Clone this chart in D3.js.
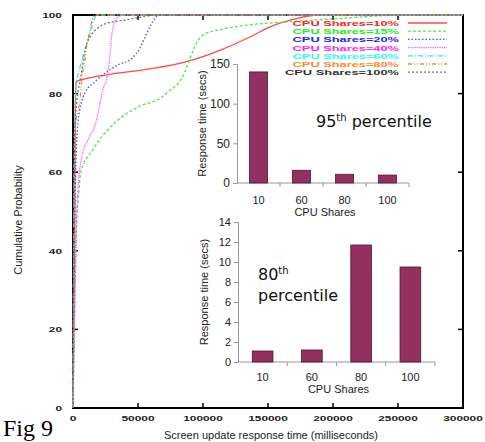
<!DOCTYPE html>
<html>
<head>
<meta charset="utf-8">
<script src="https://cdn.jsdelivr.net/npm/d3@7"></script>
<style>
  body { margin: 0; background: #fff; }
  svg { display: block; }
</style>
</head>
<body>
<div id="chart"></div>
<script>
// CDF curves (x in ms, y in %)
const cpu10 = [[0,0],[1200,40],[1800,75],[2300,83],[24600,84.7],[59200,86.3],[86000,88],[113000,91],[136000,94.4],[151500,97],[167000,98.7],[190000,100],[300000,100]];
const cpu15 = [[0,0],[1500,30],[2500,45],[4500,55],[6000,60],[15000,65.6],[32000,72.5],[50000,76.6],[68000,79],[75000,81],[82000,83],[86000,85.5],[89000,88],[93000,91.5],[100000,94.9],[115000,96.4],[136000,97.5],[162000,98.2],[200000,99],[255000,100],[300000,100]];
const cpu20 = [[0,0],[1500,50],[2500,65],[4000,73],[7700,79],[9200,80.2],[16900,83],[24600,85.2],[34600,87.3],[45400,89],[51500,91.6],[55400,94.4],[59200,97],[63000,99.2],[66000,100],[300000,100]];
const cpu40 = [[0,0],[2300,40],[3000,50],[3800,55.5],[6900,64],[11500,68.2],[17500,72.5],[20800,77.6],[23000,81],[26200,84.2],[28500,90],[30000,95.4],[33800,99.2],[38500,100],[300000,100]];
const cpu60 = [[0,0],[800,60],[1500,75],[2000,81],[5400,86.8],[9200,91],[13100,95.4],[15400,98.2],[18500,100],[300000,100]];
const cpu80 = [[0,0],[1000,60],[2300,73],[5400,78.4],[6900,84.2],[9200,88.5],[10800,92.9],[13100,96.2],[14600,98.7],[16900,100],[300000,100]];
const cpu100 = [[0,0],[1000,60],[1700,73],[3000,78],[6900,86],[9200,91],[13100,94.4],[19200,96.7],[26900,98],[40000,98.7],[53000,99.5],[63000,100],[300000,100]];

const seriesNames = ["CPU Shares=10%","CPU Shares=15%","CPU Shares=20%","CPU Shares=40%","CPU Shares=60%","CPU Shares=80%","CPU Shares=100%"];
const seriesData = [cpu10, cpu15, cpu20, cpu40, cpu60, cpu80, cpu100];

const xTicks = [0,50000,100000,150000,200000,250000,300000];
const yTicks = [0,20,40,60,80,100];

// inset bar charts
const barCategories = ["10","60","80","100"];
const p95Values = [140,16,11,10];
const p80Values = [1.1,1.2,11.7,9.5];
const p95Ticks = [0,50,100,150];
const p80Ticks = [0,2,4,6,8,10,12,14];

const lineColors = ["#ff4a4a","#4ce84c","#4848ff","#ff55ff","#33e6e6","#f08a3c","#707070"];
const textColors = ["#ff2424","#22f022","#2222ff","#ff22ff","#22ffff","#ff8a2a","#333333"];
const dashes = [null,"3,2","1.5,2","1,0.8","5,2,1,2","4,2,1,2,1,2","2,2"];

const width = 485, height = 442;
const svg = d3.select("#chart").append("svg")
    .attr("width", width).attr("height", height);

const x = d3.scaleLinear().domain([0,300000]).range([73,463]);
const y = d3.scaleLinear().domain([0,100]).range([408,15]);

// frame and ticks
const frame = svg.append("g").attr("stroke", "#000");
frame.append("rect")
    .attr("x", x(0)).attr("y", y(100))
    .attr("width", x(300000) - x(0)).attr("height", y(0) - y(100))
    .attr("fill", "none").attr("stroke-width", 2);
xTicks.slice(1, -1).forEach(t => {
    frame.append("line").attr("x1", x(t)).attr("x2", x(t)).attr("y1", y(0)).attr("y2", y(0) - 5).attr("stroke-width", 1.5);
    frame.append("line").attr("x1", x(t)).attr("x2", x(t)).attr("y1", y(100)).attr("y2", y(100) + 5).attr("stroke-width", 1.5);
});
yTicks.slice(1, -1).forEach(t => {
    frame.append("line").attr("x1", x(0)).attr("x2", x(0) + 5).attr("y1", y(t)).attr("y2", y(t)).attr("stroke-width", 1.5);
    frame.append("line").attr("x1", x(300000)).attr("x2", x(300000) - 5).attr("y1", y(t)).attr("y2", y(t)).attr("stroke-width", 1.5);
});

// curves
const line = d3.line()
    .x(d => x(d[0])).y(d => y(d[1]))
    .curve(d3.curveMonotoneX);

const curves = svg.append("g");
seriesData.forEach((s, i) => {
    curves.append("path")
        .attr("d", line(s))
        .attr("fill", "none")
        .attr("stroke", lineColors[i])
        .attr("stroke-width", 1.3)
        .attr("stroke-dasharray", dashes[i]);
});

const tickFont = "Liberation Sans, Arial, sans-serif";
svg.append("g").selectAll("text").data(xTicks).join("text")
    .attr("x", d => x(d)).attr("y", 421)
    .attr("text-anchor", "middle")
    .attr("font-family", tickFont).attr("font-weight", "bold").attr("font-size", 8)
    .attr("fill", "#222")
    .attr("textLength", d => String(d).length * 6.6)
    .attr("lengthAdjust", "spacingAndGlyphs")
    .text(d => d);
svg.append("g").selectAll("text").data(yTicks).join("text")
    .attr("x", 62).attr("y", d => y(d) + 3)
    .attr("text-anchor", "end")
    .attr("font-family", tickFont).attr("font-weight", "bold").attr("font-size", 8)
    .attr("fill", "#222")
    .attr("textLength", d => String(d).length * 6.6)
    .attr("lengthAdjust", "spacingAndGlyphs")
    .text(d => d);

svg.append("text")
    .attr("x", 271).attr("y", 439)
    .attr("text-anchor", "middle")
    .attr("font-family", tickFont).attr("font-size", 11).attr("fill", "#222")
    .text("Screen update response time (milliseconds)");
svg.append("text")
    .attr("transform", "translate(22,220) rotate(-90)")
    .attr("text-anchor", "middle")
    .attr("font-family", tickFont).attr("font-size", 11).attr("fill", "#222")
    .text("Cumulative Probability");

svg.append("text")
    .attr("x", 3).attr("y", 436)
    .attr("font-family", "Liberation Serif, Times New Roman, serif").attr("font-size", 24)
    .attr("fill", "#000")
    .text("Fig 9");

// legend
const legend = svg.append("g");
seriesNames.forEach((name, i) => {
    const ly = 23 + i * 8.2;
    legend.append("text")
        .attr("x", 399).attr("y", ly + 3)
        .attr("text-anchor", "end")
        .attr("font-family", tickFont).attr("font-weight", "bold").attr("font-size", 8)
        .attr("fill", textColors[i])
        .attr("textLength", name.length * 7.6)
        .attr("lengthAdjust", "spacingAndGlyphs")
        .text(name);
    legend.append("line")
        .attr("x1", 408).attr("x2", 447).attr("y1", ly).attr("y2", ly)
        .attr("stroke", lineColors[i]).attr("stroke-width", 1.3)
        .attr("stroke-dasharray", dashes[i]);
});

// inset bar chart helper
function barInset(opts) {
    const g = svg.append("g");
    const bx = d3.scaleBand().domain(barCategories).range([opts.x0, opts.x1]).paddingInner(0.58).paddingOuter(0.29);
    const by = d3.scaleLinear().domain(opts.domain).range([opts.y0, opts.y1]);

    g.append("g").attr("transform", `translate(${opts.x0},0)`)
        .call(d3.axisLeft(by).tickValues(opts.ticks).tickSize(4).tickPadding(3))
        .call(a => a.select(".domain").attr("stroke", "#999"))
        .call(a => a.selectAll(".tick line").attr("stroke", "#999"))
        .call(a => a.selectAll("text").attr("font-family", tickFont).attr("font-size", opts.fs).attr("fill", "#222"));

    const step = (opts.x1 - opts.x0) / barCategories.length;
    const xa = g.append("g").attr("transform", `translate(0,${opts.y0})`);
    xa.append("line").attr("x1", opts.x0).attr("x2", opts.x1).attr("stroke", "#999");
    d3.range(1, barCategories.length + 1).forEach(k => {
        xa.append("line").attr("x1", opts.x0 + k * step).attr("x2", opts.x0 + k * step)
            .attr("y1", 0).attr("y2", 4).attr("stroke", "#999");
    });
    xa.selectAll("text").data(barCategories).join("text")
        .attr("x", d => bx(d) + bx.bandwidth() / 2).attr("y", opts.labelDy)
        .attr("text-anchor", "middle")
        .attr("font-family", tickFont).attr("font-size", 11).attr("fill", "#222")
        .text(d => d);
    xa.append("text")
        .attr("x", (opts.x0 + opts.x1) / 2 + 2).attr("y", opts.labelDy + 12)
        .attr("text-anchor", "middle")
        .attr("font-family", tickFont).attr("font-size", 11).attr("fill", "#222")
        .text("CPU Shares");

    g.selectAll("rect.bar").data(opts.values).join("rect")
        .attr("class", "bar")
        .attr("x", (d, i) => bx(barCategories[i]))
        .attr("y", d => by(d))
        .attr("width", bx.bandwidth())
        .attr("height", d => opts.y0 - by(d))
        .attr("fill", "#933060")
        .attr("stroke", "#4e1630").attr("stroke-width", 0.8);

    g.append("text")
        .attr("transform", `translate(${opts.titleX},${(opts.y0 + opts.y1) / 2}) rotate(-90)`)
        .attr("text-anchor", "middle")
        .attr("font-family", tickFont).attr("font-size", 11).attr("fill", "#222")
        .text("Response time (secs)");
    return g;
}

barInset({x0: 237, x1: 409, y0: 183, y1: 64, domain: [0,150], ticks: p95Ticks, values: p95Values, fs: 12, titleX: 206, labelDy: 21});
barInset({x0: 238, x1: 435, y0: 362, y1: 222, domain: [0,14], ticks: p80Ticks, values: p80Values, fs: 11, titleX: 208, labelDy: 19});

const labelFont = "DejaVu Sans, Verdana, sans-serif";
const t95 = svg.append("text")
    .attr("x", 316).attr("y", 127)
    .attr("font-family", labelFont).attr("font-size", 16).attr("fill", "#111");
t95.append("tspan").text("95");
t95.append("tspan").attr("font-size", 10).attr("dy", -6).text("th");
t95.append("tspan").attr("dy", 6).text(" percentile");

const t80 = svg.append("text")
    .attr("x", 258).attr("y", 280)
    .attr("font-family", labelFont).attr("font-size", 16).attr("fill", "#111");
t80.append("tspan").text("80");
t80.append("tspan").attr("font-size", 10).attr("dy", -6).text("th");
svg.append("text")
    .attr("x", 258).attr("y", 301)
    .attr("font-family", labelFont).attr("font-size", 16).attr("fill", "#111")
    .text("percentile");
</script>
</body>
</html>
